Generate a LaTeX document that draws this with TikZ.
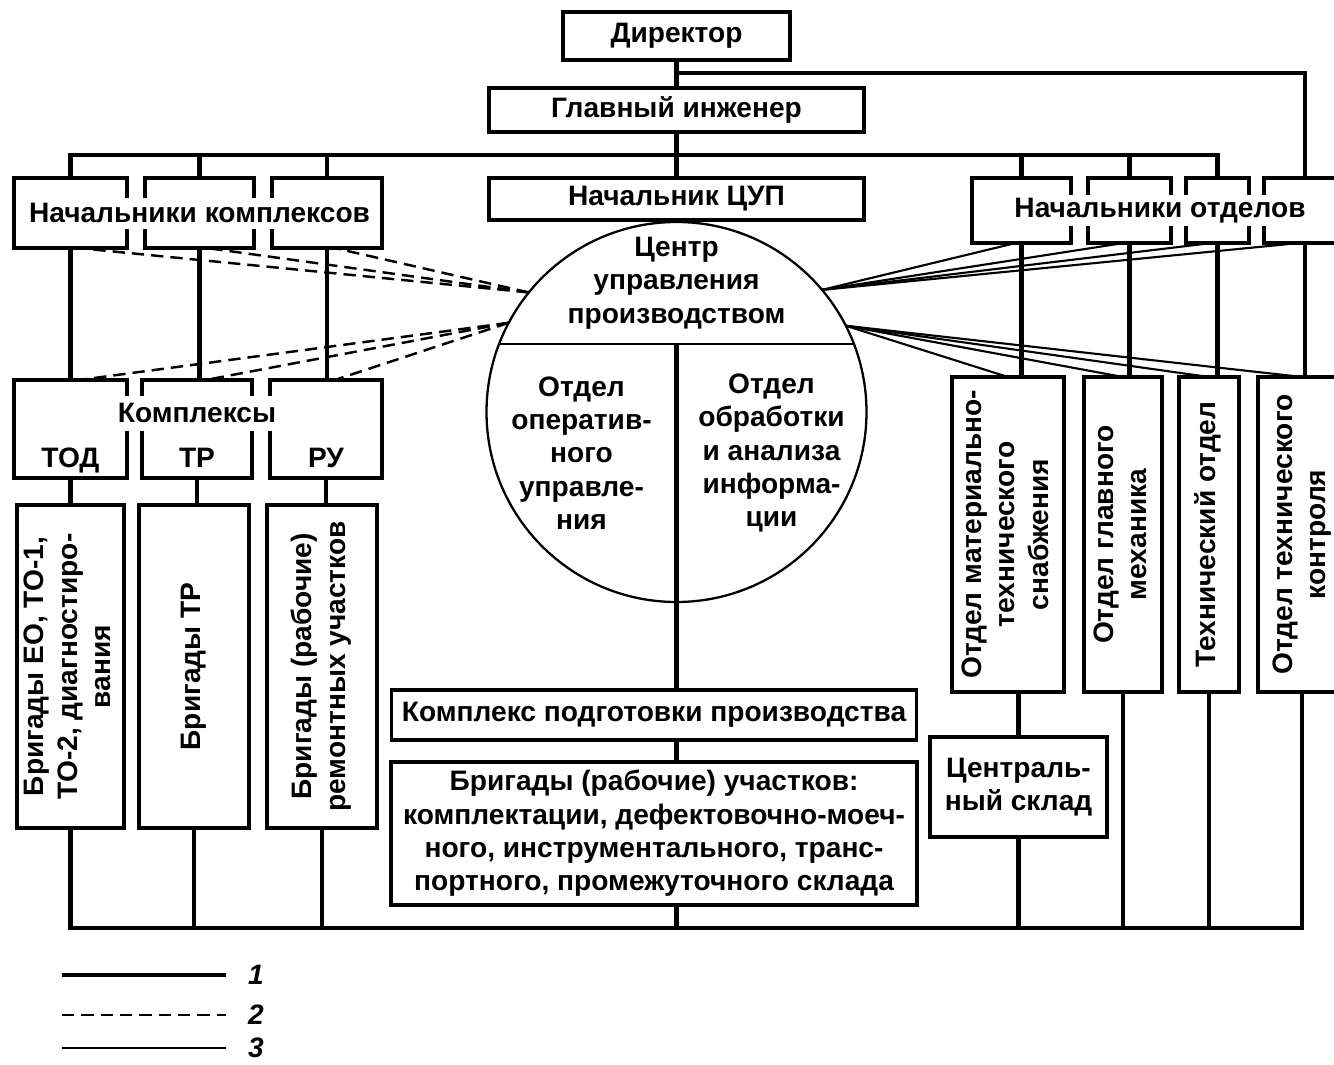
\documentclass[tikz,border=0pt]{standalone}
\usepackage{fontspec}
\setmainfont{Liberation Sans}
\usetikzlibrary{positioning}
\newcommand{\vtxt}[1]{\rotatebox{90}{\begin{tabular}{@{}c@{}}#1\end{tabular}}}

\begin{document}
\begin{tikzpicture}[%
      every node/.style={inner sep=0pt, outer sep=0pt, font=\fontsize{16}{19}\selectfont\bfseries},
      box/.style={draw, rectangle, line width=1.8pt, align=center},
      lbl/.style={fill=white, inner xsep=3pt, minimum height=0.62cm},
      line1/.style={line width=2.4pt},
      line2/.style={line width=1.4pt, dash pattern=on 7pt off 4pt},
      line3/.style={line width=1.2pt},
      node distance=0.5cm
    ]
    \path[use as bounding box, fill=white] (0,0) rectangle (26.68,-21.28);

    % top of the chart and the centre
    \node [box, minimum width=4.54cm, minimum height=0.96cm] (0) at (13.53,-0.72) {Директор};
    \node [box, minimum width=7.5cm, minimum height=0.88cm] (1) [below=0.56cm of 0] {Главный инженер};
    \node [box, minimum width=7.5cm, minimum height=0.84cm] (2) [below=0.92cm of 1] {Начальник ЦУП};
    \node [circle, draw, line width=1.3pt, minimum size=7.6cm] (3) [below=0.04cm of 2] {};
    \node [align=center] (4) at ([yshift=2.58cm]3.center) {Центр\\управления\\производством};
    \node [align=center] (5) at ([xshift=-1.9cm, yshift=-0.82cm]3.center) {Отдел\\оператив-\\ного\\управле-\\ния};
    \node [align=center] (6) at ([xshift=1.9cm, yshift=-0.82cm]3.center) {Отдел\\обработки\\и анализа\\информа-\\ции};
    \node [box, minimum width=10.5cm, minimum height=1cm] (7) [below=1.76cm of 3, xshift=-0.45cm] {Комплекс подготовки производства};
    \node [box, minimum width=10.52cm, minimum height=2.86cm] (8) [below=0.44cm of 7]
      {Бригады (рабочие) участков:\\комплектации, дефектовочно-моеч-\\ного, инструментального, транс-\\портного, промежуточного склада};

    % complexes
    \node [box, minimum width=2.2cm, minimum height=1.4cm] (13) [left=2.14cm of 2.north west, anchor=north east] {};
    \node [box, minimum width=2.18cm, minimum height=1.4cm] (12) [left=0.36cm of 13] {};
    \node [box, minimum width=2.26cm, minimum height=1.4cm] (11) [left=0.36cm of 12] {};
    \node [lbl] (10) at (12) {Начальники комплексов};
    \node [box, minimum width=2.26cm, minimum height=1.96cm] (21) [below=2.64cm of 11] {};
    \node [box, minimum width=2.2cm, minimum height=1.96cm] (22) [right=0.3cm of 21] {};
    \node [box, minimum width=2.24cm, minimum height=1.96cm] (23) [right=0.36cm of 22] {};
    \node [lbl, minimum height=0.7cm] (20) at ([yshift=0.32cm]22.center) {Комплексы};
    \node [anchor=base] (24) at ([yshift=-0.76cm]21.center) {ТОД};
    \node [anchor=base] (25) at ([yshift=-0.76cm]22.center) {ТР};
    \node [anchor=base] (26) at ([yshift=-0.76cm]23.center) {РУ};
    \node [box, minimum width=2.14cm, minimum height=6.46cm] (31) [below=0.54cm of 21] {\vtxt{Бригады ЕО, ТО-1,\\ТО-2, диагностиро-\\вания}};
    \node [box, minimum width=2.2cm, minimum height=6.46cm] (32) [below=0.54cm of 22, xshift=-0.06cm] {\vtxt{Бригады ТР}};
    \node [box, minimum width=2.2cm, minimum height=6.46cm] (33) [below=0.54cm of 23, xshift=-0.08cm] {\vtxt{Бригады (рабочие)\\ремонтных участков}};

    % departments
    \node [box, minimum width=1.98cm, minimum height=1.3cm] (41) [right=2.16cm of 2.north east, anchor=north west] {};
    \node [box, minimum width=1.66cm, minimum height=1.3cm] (42) [right=0.34cm of 41] {};
    \node [box, minimum width=1.26cm, minimum height=1.3cm] (43) [right=0.3cm of 42] {};
    \node [box, minimum width=1.64cm, minimum height=1.3cm] (44) [right=0.3cm of 43] {};
    \node [lbl] (40) at ([xshift=0.61cm]42.center) {Начальники отделов};
    \node [box, minimum width=2.24cm, minimum height=6.3cm] (51) [below=2.68cm of 41, xshift=-0.27cm] {\vtxt{Отдел материально-\\технического\\снабжения}};
    \node [box, minimum width=1.56cm, minimum height=6.3cm] (52) [right=0.4cm of 51] {\vtxt{Отдел главного\\механика}};
    \node [box, minimum width=1.2cm, minimum height=6.3cm] (53) [right=0.34cm of 52] {\vtxt{Технический отдел}};
    \node [box, minimum width=1.76cm, minimum height=6.3cm] (54) [right=0.38cm of 53] {\vtxt{Отдел технического\\контроля}};
    \node [box, minimum width=3.54cm, minimum height=2cm] (61) [below=0.9cm of 51, xshift=0.21cm] {Централь-\\ный склад};

    % lines 1
    \coordinate [below=0.26cm of 0] (a);
    \coordinate [below=0.46cm of 1] (b);
    \coordinate [below=0.46cm of 8] (bb);
    \draw[line1] (0.south) -- (0.south |- 1.north);
    \draw[line1] (1) -- (2);
    \draw[line1] (a) -| (44.north);
    \draw[line1] (11.north) |- (b) -| (43.north);
    \foreach \n in {12,13,41,42}
      \draw[line1] (\n.north) -- (\n.north |- b);
    \foreach \u/\l in {11/21,12/22,13/23,21/31,22/32,23/33,41/51,42/52,43/53,44/54}
      \draw[line1] (\u.south) -- (\u.south |- \l.north);
    \draw[line1] (61.north) -- (61.north |- 51.south);
    \draw[line1] (31.south) |- (bb) -| (54.south);
    \foreach \n in {32,33,61,52,53}
      \draw[line1] (\n.south) -- (\n.south |- bb);
    \draw[line1] (3.center |- 3.21) -- (3.center |- 7.north);
    \draw[line1] (3.center |- 7.south) -- (3.center |- 8.north);
    \draw[line1] (3.center |- 8.south) -- (3.center |- bb);
    \draw[line width=1.3pt] (3.159) -- (3.21);

    % lines 2 and 3
    \foreach \n in {11,12,13}
      \draw[line2] (3.141) -- (\n.-78);
    \foreach \n in {21,22,23}
      \draw[line2] (3.152) -- (\n.80);
    \foreach \n in {41,42,43,44}
      \draw[line3] (3.40) -- (\n.-100);
    \foreach \n in {51,52,53,54}
      \draw[line3] (3.27) -- (\n.north);

    % legend
    \foreach \i/\y/\s in {1/-19.5/line1, 2/-20.3/line2, 3/-20.96/line3} {
      \node [inner xsep=0.45cm] (7\i) at (5.12,\y) {\itshape\i};
      \coordinate (8\i) at (1.24,\y);
      \draw[\s] (8\i) -- (7\i);
    }
\end{tikzpicture}
\end{document}
